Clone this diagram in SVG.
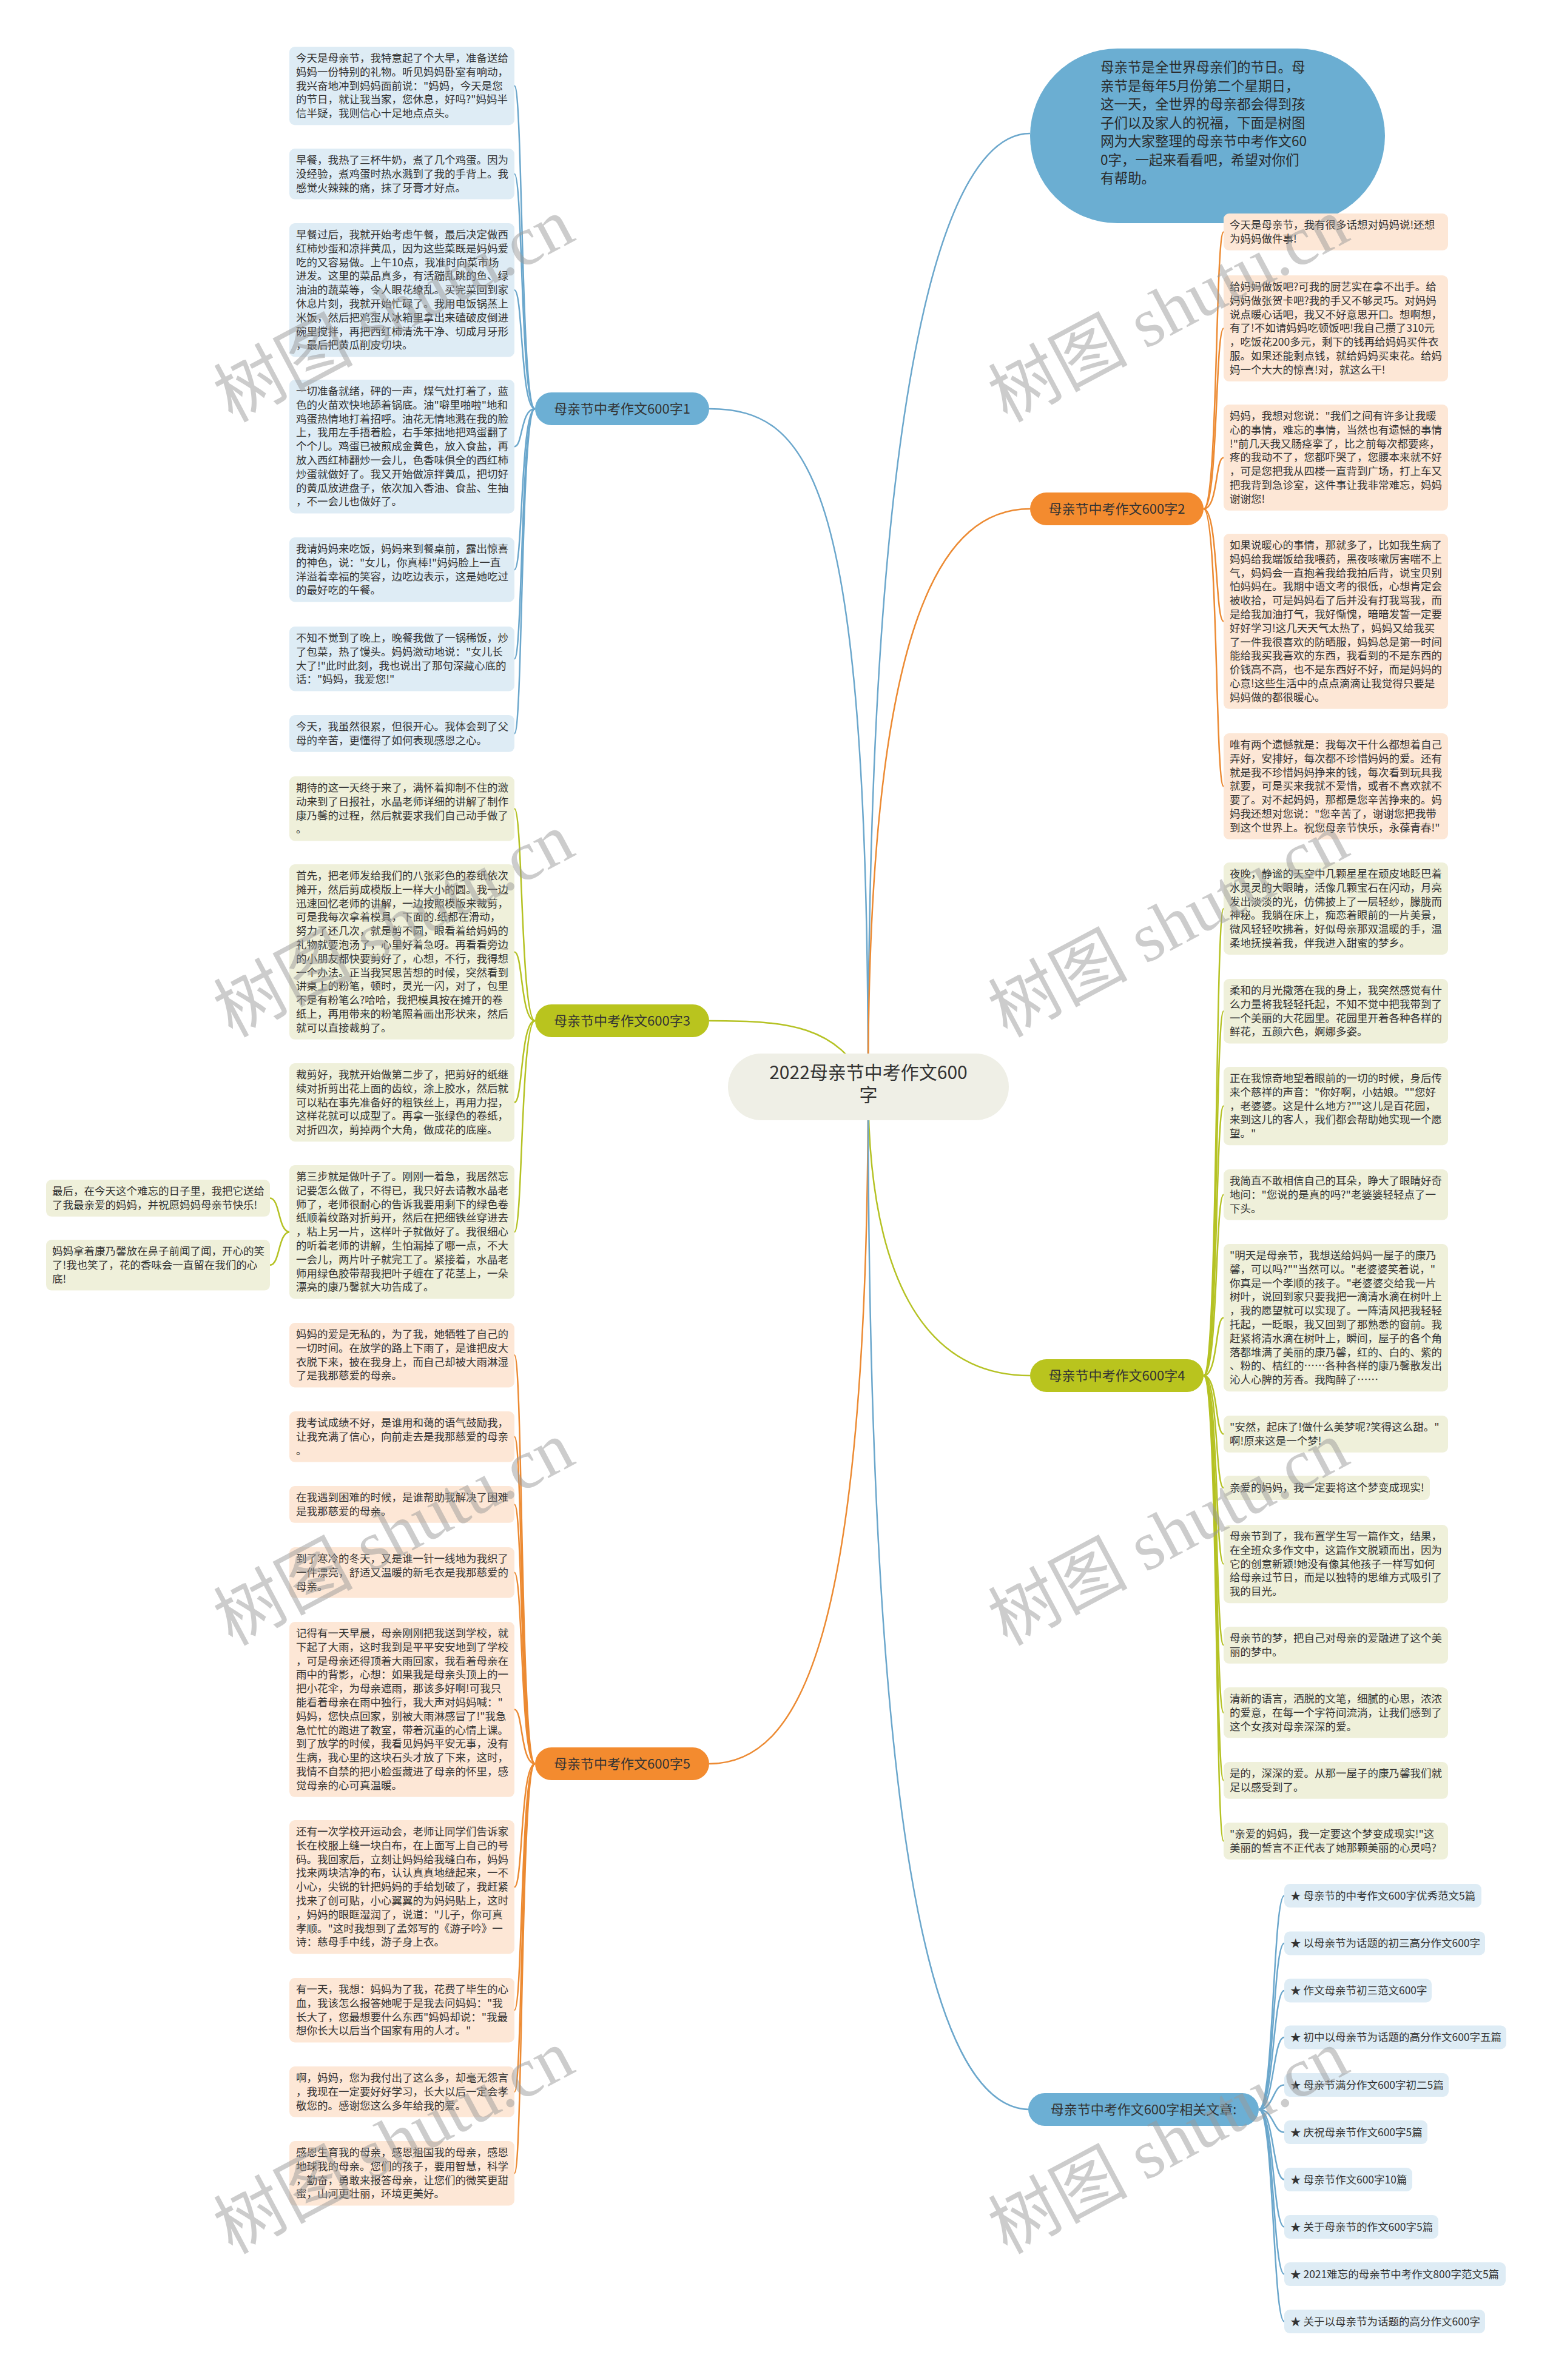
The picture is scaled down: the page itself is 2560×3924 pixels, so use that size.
<svg xmlns="http://www.w3.org/2000/svg" width="2560" height="3924" viewBox="0 0 2560 3924">
<style>
.t{font-family:"Noto Sans CJK SC","Noto Sans",sans-serif;font-size:17.5px;fill:#333}
.bt{font-family:"Noto Sans CJK SC","Noto Sans",sans-serif;font-size:22px;fill:#333;text-anchor:middle}
.ct{font-family:"Noto Sans CJK SC","Noto Sans",sans-serif;font-size:30px;fill:#333;text-anchor:middle}
.qt{font-family:"Noto Sans CJK SC","Noto Sans",sans-serif;font-size:22.5px;fill:#2a2a2a}
.bb{fill:#DEECF5}.bo{fill:#FDE7D6}.bg{fill:#EFF0DA}
.cb{fill:none;stroke:#6BA7CC;stroke-width:2.5}
.co{fill:none;stroke:#EC8A32;stroke-width:2.5}
.cg{fill:none;stroke:#B5C224;stroke-width:2.5}
.wm{font-family:"Liberation Serif","Noto Sans CJK SC",serif;font-size:115px;fill:#9a9a9a;opacity:0.5;text-anchor:middle}
</style>
<rect width="2560" height="3924" fill="#ffffff"/>
<g id="connectors">
<path class="cb" d="M1431 1790 C1431 600 1560 220 1698 220"/>
<path class="cb" d="M1431 1790 C1431 800 1340 674 1169 674"/>
<path class="co" d="M1431 1790 C1431 1000 1560 839 1698 839"/>
<path class="cg" d="M1431 1790 C1380 1690 1300 1683 1169 1683"/>
<path class="cg" d="M1431 1790 C1431 2100 1520 2268 1698 2268"/>
<path class="co" d="M1431 1790 C1431 2700 1320 2908 1169 2908"/>
<path class="cb" d="M1431 1790 C1431 3000 1530 3478 1698 3478"/>
<g class="cb">
<path d="M882 674 C858 674 862 141.6 848 141.6"/>
<path d="M882 674 C858 674 862 286.8 848 286.8"/>
<path d="M882 674 C858 674 862 478.2 848 478.2"/>
<path d="M882 674 C858 674 862 736.2 848 736.2"/>
<path d="M882 674 C858 674 862 939.2 848 939.2"/>
<path d="M882 674 C858 674 862 1086.2 848 1086.2"/>
<path d="M882 674 C858 674 862 1209.4 848 1209.4"/>
</g>
<g class="cg">
<path d="M882 1683 C858 1683 862 1333.2 848 1333.2"/>
<path d="M882 1683 C858 1683 862 1569.4 848 1569.4"/>
<path d="M882 1683 C858 1683 862 1817.6 848 1817.6"/>
<path d="M882 1683 C858 1683 862 2031.2 848 2031.2"/>
<path d="M478 2031.2 C458 2031.2 462 1975.4 445 1975.4"/>
<path d="M478 2031.2 C458 2031.2 462 2085.8 445 2085.8"/>
</g>
<g class="co">
<path d="M882 2908 C858 2908 862 2234.2 848 2234.2"/>
<path d="M882 2908 C858 2908 862 2368.8 848 2368.8"/>
<path d="M882 2908 C858 2908 862 2480.4 848 2480.4"/>
<path d="M882 2908 C858 2908 862 2592.8 848 2592.8"/>
<path d="M882 2908 C858 2908 862 2818.4 848 2818.4"/>
<path d="M882 2908 C858 2908 862 3111.2 848 3111.2"/>
<path d="M882 2908 C858 2908 862 3314.2 848 3314.2"/>
<path d="M882 2908 C858 2908 862 3448.8 848 3448.8"/>
<path d="M882 2908 C858 2908 862 3583.2 848 3583.2"/>
</g>
<g class="co">
<path d="M1984 839 C2008 839 2003 382.4 2017 382.4"/>
<path d="M1984 839 C2008 839 2003 541.4 2017 541.4"/>
<path d="M1984 839 C2008 839 2003 754.4 2017 754.4"/>
<path d="M1984 839 C2008 839 2003 1024.4 2017 1024.4"/>
<path d="M1984 839 C2008 839 2003 1296.4 2017 1296.4"/>
</g>
<g class="cg">
<path d="M1984 2268 C2008 2268 2003 1498 2017 1498"/>
<path d="M1984 2268 C2008 2268 2003 1667.2 2017 1667.2"/>
<path d="M1984 2268 C2008 2268 2003 1823.6 2017 1823.6"/>
<path d="M1984 2268 C2008 2268 2003 1969.8 2017 1969.8"/>
<path d="M1984 2268 C2008 2268 2003 2172.6 2017 2172.6"/>
<path d="M1984 2268 C2008 2268 2003 2364.4 2017 2364.4"/>
<path d="M1984 2268 C2008 2268 2003 2453 2017 2453"/>
<path d="M1984 2268 C2008 2268 2003 2578.6 2017 2578.6"/>
<path d="M1984 2268 C2008 2268 2003 2712.4 2017 2712.4"/>
<path d="M1984 2268 C2008 2268 2003 2823.8 2017 2823.8"/>
<path d="M1984 2268 C2008 2268 2003 2935.4 2017 2935.4"/>
<path d="M1984 2268 C2008 2268 2003 3035.4 2017 3035.4"/>
</g>
<g class="cb">
<path d="M2075 3478 C2100 3478 2098 3125.5 2117 3125.5"/>
<path d="M2075 3478 C2100 3478 2098 3204 2117 3204"/>
<path d="M2075 3478 C2100 3478 2098 3282 2117 3282"/>
<path d="M2075 3478 C2100 3478 2098 3359 2117 3359"/>
<path d="M2075 3478 C2100 3478 2098 3437.5 2117 3437.5"/>
<path d="M2075 3478 C2100 3478 2098 3515.5 2117 3515.5"/>
<path d="M2075 3478 C2100 3478 2098 3593.5 2117 3593.5"/>
<path d="M2075 3478 C2100 3478 2098 3671.5 2117 3671.5"/>
<path d="M2075 3478 C2100 3478 2098 3749.5 2117 3749.5"/>
<path d="M2075 3478 C2100 3478 2098 3827.5 2117 3827.5"/>
</g>
</g>

<g id="center"><rect x="1200" y="1737" width="463" height="110" rx="55" fill="#EFEFE6"/><text class="ct"><tspan x="1431.5" y="1779">2022母亲节中考作文600</tspan><tspan x="1431.5" y="1816">字</tspan></text></g>

<g id="intro"><rect x="1698" y="80" width="585" height="288" rx="144" fill="#6BAED2"/><text class="qt"><tspan x="1814" y="119">母亲节是全世界母亲们的节日。母</tspan><tspan x="1814" y="149.5">亲节是每年5月份第二个星期日，</tspan><tspan x="1814" y="180">这一天，全世界的母亲都会得到孩</tspan><tspan x="1814" y="210.5">子们以及家人的祝福，下面是树图</tspan><tspan x="1814" y="241">网为大家整理的母亲节中考作文60</tspan><tspan x="1814" y="271.5">0字，一起来看看吧，希望对你们</tspan><tspan x="1814" y="302">有帮助。</tspan></text></g>

<g id="b1"><rect x="882" y="647" width="287" height="54" rx="27" fill="#6CAFD4"/><text class="bt" x="1025.5" y="682">母亲节中考作文600字1</text></g>
<g id="b2"><rect x="1698" y="812" width="286" height="54" rx="27" fill="#F38B2F"/><text class="bt" x="1841" y="847">母亲节中考作文600字2</text></g>
<g id="b3"><rect x="882" y="1656" width="287" height="54" rx="27" fill="#B9C41E"/><text class="bt" x="1025.5" y="1691">母亲节中考作文600字3</text></g>
<g id="b4"><rect x="1698" y="2241" width="286" height="54" rx="27" fill="#B9C41E"/><text class="bt" x="1841" y="2276">母亲节中考作文600字4</text></g>
<g id="b5"><rect x="882" y="2881" width="287" height="54" rx="27" fill="#F38B2F"/><text class="bt" x="1025.5" y="2916">母亲节中考作文600字5</text></g>
<g id="b6"><rect x="1695" y="3451" width="380" height="54" rx="27" fill="#6CAFD4"/><text class="bt" x="1885" y="3486">母亲节中考作文600字相关文章:</text></g>

<g id="l1a"><rect class="bb" x="477" y="77" width="371" height="129.2" rx="9"/><text class="t"><tspan x="488" y="102">今天是母亲节，我特意起了个大早，准备送给</tspan><tspan x="488" y="124.8">妈妈一份特别的礼物。听见妈妈卧室有响动，</tspan><tspan x="488" y="147.6">我兴奋地冲到妈妈面前说："妈妈，今天是您</tspan><tspan x="488" y="170.4">的节日，就让我当家，您休息，好吗?"妈妈半</tspan><tspan x="488" y="193.2">信半疑，我则信心十足地点点头。</tspan></text></g>
<g id="l1b"><rect class="bb" x="477" y="245" width="371" height="83.6" rx="9"/><text class="t"><tspan x="488" y="270">早餐，我热了三杯牛奶，煮了几个鸡蛋。因为</tspan><tspan x="488" y="292.8">没经验，煮鸡蛋时热水溅到了我的手背上。我</tspan><tspan x="488" y="315.6">感觉火辣辣的痛，抹了牙膏才好点。</tspan></text></g>
<g id="l1c"><rect class="bb" x="477" y="368" width="371" height="220.4" rx="9"/><text class="t"><tspan x="488" y="393">早餐过后，我就开始考虑午餐，最后决定做西</tspan><tspan x="488" y="415.8">红柿炒蛋和凉拌黄瓜，因为这些菜既是妈妈爱</tspan><tspan x="488" y="438.6">吃的又容易做。上午10点，我准时向菜市场</tspan><tspan x="488" y="461.4">进发。这里的菜品真多，有活蹦乱跳的鱼、绿</tspan><tspan x="488" y="484.2">油油的蔬菜等，令人眼花缭乱。买完菜回到家</tspan><tspan x="488" y="507">休息片刻，我就开始忙碌了。我用电饭锅蒸上</tspan><tspan x="488" y="529.8">米饭，然后把鸡蛋从冰箱里拿出来磕破皮倒进</tspan><tspan x="488" y="552.6">碗里搅拌，再把西红柿清洗干净、切成月牙形</tspan><tspan x="488" y="575.4">，最后把黄瓜削皮切块。</tspan></text></g>
<g id="l1d"><rect class="bb" x="477" y="626" width="371" height="220.4" rx="9"/><text class="t"><tspan x="488" y="651">一切准备就绪，砰的一声，煤气灶打着了，蓝</tspan><tspan x="488" y="673.8">色的火苗欢快地舔着锅底。油"噼里啪啦"地和</tspan><tspan x="488" y="696.6">鸡蛋热情地打着招呼。油花无情地溅在我的脸</tspan><tspan x="488" y="719.4">上，我用左手捂着脸，右手笨拙地把鸡蛋翻了</tspan><tspan x="488" y="742.2">个个儿。鸡蛋已被煎成金黄色，放入食盐，再</tspan><tspan x="488" y="765">放入西红柿翻炒一会儿，色香味俱全的西红柿</tspan><tspan x="488" y="787.8">炒蛋就做好了。我又开始做凉拌黄瓜，把切好</tspan><tspan x="488" y="810.6">的黄瓜放进盘子，依次加入香油、食盐、生抽</tspan><tspan x="488" y="833.4">，不一会儿也做好了。</tspan></text></g>
<g id="l1e"><rect class="bb" x="477" y="886" width="371" height="106.4" rx="9"/><text class="t"><tspan x="488" y="911">我请妈妈来吃饭，妈妈来到餐桌前，露出惊喜</tspan><tspan x="488" y="933.8">的神色，说："女儿，你真棒!"妈妈脸上一直</tspan><tspan x="488" y="956.6">洋溢着幸福的笑容，边吃边表示，这是她吃过</tspan><tspan x="488" y="979.4">的最好吃的午餐。</tspan></text></g>
<g id="l1f"><rect class="bb" x="477" y="1033" width="371" height="106.4" rx="9"/><text class="t"><tspan x="488" y="1058">不知不觉到了晚上，晚餐我做了一锅稀饭，炒</tspan><tspan x="488" y="1080.8">了包菜，热了馒头。妈妈激动地说："女儿长</tspan><tspan x="488" y="1103.6">大了!"此时此刻，我也说出了那句深藏心底的</tspan><tspan x="488" y="1126.4">话："妈妈，我爱您!"</tspan></text></g>
<g id="l1g"><rect class="bb" x="477" y="1179" width="371" height="60.8" rx="9"/><text class="t"><tspan x="488" y="1204">今天，我虽然很累，但很开心。我体会到了父</tspan><tspan x="488" y="1226.8">母的辛苦，更懂得了如何表现感恩之心。</tspan></text></g>

<g id="l3a"><rect class="bg" x="477" y="1280" width="371" height="106.4" rx="9"/><text class="t"><tspan x="488" y="1305">期待的这一天终于来了，满怀着抑制不住的激</tspan><tspan x="488" y="1327.8">动来到了日报社，水晶老师详细的讲解了制作</tspan><tspan x="488" y="1350.6">康乃馨的过程，然后就要求我们自己动手做了</tspan><tspan x="488" y="1373.4">。</tspan></text></g>
<g id="l3b"><rect class="bg" x="477" y="1425" width="371" height="288.8" rx="9"/><text class="t"><tspan x="488" y="1450">首先，把老师发给我们的八张彩色的卷纸依次</tspan><tspan x="488" y="1472.8">摊开，然后剪成模版上一样大小的圆。我一边</tspan><tspan x="488" y="1495.6">迅速回忆老师的讲解，一边按照模版来裁剪，</tspan><tspan x="488" y="1518.4">可是我每次拿着模具，下面的.纸都在滑动，</tspan><tspan x="488" y="1541.2">努力了还几次，就是剪不圆，眼看着给妈妈的</tspan><tspan x="488" y="1564">礼物就要泡汤了，心里好着急呀。再看看旁边</tspan><tspan x="488" y="1586.8">的小朋友都快要剪好了，心想，不行，我得想</tspan><tspan x="488" y="1609.6">一个办法。正当我冥思苦想的时候，突然看到</tspan><tspan x="488" y="1632.4">讲桌上的粉笔，顿时，灵光一闪，对了，包里</tspan><tspan x="488" y="1655.2">不是有粉笔么?哈哈，我把模具按在摊开的卷</tspan><tspan x="488" y="1678">纸上，再用带来的粉笔照着画出形状来，然后</tspan><tspan x="488" y="1700.8">就可以直接裁剪了。</tspan></text></g>
<g id="l3c"><rect class="bg" x="477" y="1753" width="371" height="129.2" rx="9"/><text class="t"><tspan x="488" y="1778">裁剪好，我就开始做第二步了，把剪好的纸继</tspan><tspan x="488" y="1800.8">续对折剪出花上面的齿纹，涂上胶水，然后就</tspan><tspan x="488" y="1823.6">可以粘在事先准备好的粗铁丝上，再用力捏，</tspan><tspan x="488" y="1846.4">这样花就可以成型了。再拿一张绿色的卷纸，</tspan><tspan x="488" y="1869.2">对折四次，剪掉两个大角，做成花的底座。</tspan></text></g>
<g id="l3d"><rect class="bg" x="477" y="1921" width="371" height="220.4" rx="9"/><text class="t"><tspan x="488" y="1946">第三步就是做叶子了。刚刚一着急，我居然忘</tspan><tspan x="488" y="1968.8">记要怎么做了，不得已，我只好去请教水晶老</tspan><tspan x="488" y="1991.6">师了，老师很耐心的告诉我要用剩下的绿色卷</tspan><tspan x="488" y="2014.4">纸顺着纹路对折剪开，然后在把细铁丝穿进去</tspan><tspan x="488" y="2037.2">，粘上另一片，这样叶子就做好了。我很细心</tspan><tspan x="488" y="2060">的听着老师的讲解，生怕漏掉了哪一点，不大</tspan><tspan x="488" y="2082.8">一会儿，两片叶子就完工了。紧接着，水晶老</tspan><tspan x="488" y="2105.6">师用绿色胶带帮我把叶子缠在了花茎上，一朵</tspan><tspan x="488" y="2128.4">漂亮的康乃馨就大功告成了。</tspan></text></g>
<g id="s1"><rect class="bg" x="76" y="1945" width="369" height="60.8" rx="9"/><text class="t"><tspan x="86" y="1970">最后，在今天这个难忘的日子里，我把它送给</tspan><tspan x="86" y="1992.8">了我最亲爱的妈妈，并祝愿妈妈母亲节快乐!</tspan></text></g>
<g id="s2"><rect class="bg" x="76" y="2044" width="369" height="83.6" rx="9"/><text class="t"><tspan x="86" y="2069">妈妈拿着康乃馨放在鼻子前闻了闻，开心的笑</tspan><tspan x="86" y="2091.8">了!我也笑了，花的香味会一直留在我们的心</tspan><tspan x="86" y="2114.6">底!</tspan></text></g>

<g id="l5a"><rect class="bo" x="477" y="2181" width="371" height="106.4" rx="9"/><text class="t"><tspan x="488" y="2206">妈妈的爱是无私的，为了我，她牺牲了自己的</tspan><tspan x="488" y="2228.8">一切时间。在放学的路上下雨了，是谁把皮大</tspan><tspan x="488" y="2251.6">衣脱下来，披在我身上，而自己却被大雨淋湿</tspan><tspan x="488" y="2274.4">了是我那慈爱的母亲。</tspan></text></g>
<g id="l5b"><rect class="bo" x="477" y="2327" width="371" height="83.6" rx="9"/><text class="t"><tspan x="488" y="2352">我考试成绩不好，是谁用和蔼的语气鼓励我，</tspan><tspan x="488" y="2374.8">让我充满了信心，向前走去是我那慈爱的母亲</tspan><tspan x="488" y="2397.6">。</tspan></text></g>
<g id="l5c"><rect class="bo" x="477" y="2450" width="371" height="60.8" rx="9"/><text class="t"><tspan x="488" y="2475">在我遇到困难的时候，是谁帮助我解决了困难</tspan><tspan x="488" y="2497.8">是我那慈爱的母亲。</tspan></text></g>
<g id="l5d"><rect class="bo" x="477" y="2551" width="371" height="83.6" rx="9"/><text class="t"><tspan x="488" y="2576">到了寒冷的冬天，又是谁一针一线地为我织了</tspan><tspan x="488" y="2598.8">一件漂亮，舒适又温暖的新毛衣是我那慈爱的</tspan><tspan x="488" y="2621.6">母亲。</tspan></text></g>
<g id="l5e"><rect class="bo" x="477" y="2674" width="371" height="288.8" rx="9"/><text class="t"><tspan x="488" y="2699">记得有一天早晨，母亲刚刚把我送到学校，就</tspan><tspan x="488" y="2721.8">下起了大雨，这时我到是平平安安地到了学校</tspan><tspan x="488" y="2744.6">，可是母亲还得顶着大雨回家，我看着母亲在</tspan><tspan x="488" y="2767.4">雨中的背影，心想：如果我是母亲头顶上的一</tspan><tspan x="488" y="2790.2">把小花伞，为母亲遮雨，那该多好啊!可我只</tspan><tspan x="488" y="2813">能看着母亲在雨中独行，我大声对妈妈喊："</tspan><tspan x="488" y="2835.8">妈妈，您快点回家，别被大雨淋感冒了!"我急</tspan><tspan x="488" y="2858.6">急忙忙的跑进了教室，带着沉重的心情上课。</tspan><tspan x="488" y="2881.4">到了放学的时候，我看见妈妈平安无事，没有</tspan><tspan x="488" y="2904.2">生病，我心里的这块石头才放了下来，这时，</tspan><tspan x="488" y="2927">我情不自禁的把小脸蛋藏进了母亲的怀里，感</tspan><tspan x="488" y="2949.8">觉母亲的心可真温暖。</tspan></text></g>
<g id="l5f"><rect class="bo" x="477" y="3001" width="371" height="220.4" rx="9"/><text class="t"><tspan x="488" y="3026">还有一次学校开运动会，老师让同学们告诉家</tspan><tspan x="488" y="3048.8">长在校服上缝一块白布，在上面写上自己的号</tspan><tspan x="488" y="3071.6">码。我回家后，立刻让妈妈给我缝白布，妈妈</tspan><tspan x="488" y="3094.4">找来两块洁净的布，认认真真地缝起来，一不</tspan><tspan x="488" y="3117.2">小心，尖锐的针把妈妈的手给划破了，我赶紧</tspan><tspan x="488" y="3140">找来了创可贴，小心翼翼的为妈妈贴上，这时</tspan><tspan x="488" y="3162.8">，妈妈的眼眶湿润了，说道："儿子，你可真</tspan><tspan x="488" y="3185.6">孝顺。"这时我想到了孟郊写的《游子吟》一</tspan><tspan x="488" y="3208.4">诗：慈母手中线，游子身上衣。</tspan></text></g>
<g id="l5g"><rect class="bo" x="477" y="3261" width="371" height="106.4" rx="9"/><text class="t"><tspan x="488" y="3286">有一天，我想：妈妈为了我，花费了毕生的心</tspan><tspan x="488" y="3308.8">血，我该怎么报答她呢于是我去问妈妈："我</tspan><tspan x="488" y="3331.6">长大了，您最想要什么东西"妈妈却说："我最</tspan><tspan x="488" y="3354.4">想你长大以后当个国家有用的人才。"</tspan></text></g>
<g id="l5h"><rect class="bo" x="477" y="3407" width="371" height="83.6" rx="9"/><text class="t"><tspan x="488" y="3432">啊，妈妈，您为我付出了这么多，却毫无怨言</tspan><tspan x="488" y="3454.8">，我现在一定要好好学习，长大以后一定会孝</tspan><tspan x="488" y="3477.6">敬您的。感谢您这么多年给我的爱。</tspan></text></g>
<g id="l5i"><rect class="bo" x="477" y="3530" width="371" height="106.4" rx="9"/><text class="t"><tspan x="488" y="3555">感恩生育我的母亲，感恩祖国我的母亲，感恩</tspan><tspan x="488" y="3577.8">地球我的母亲。您们的孩子，要用智慧，科学</tspan><tspan x="488" y="3600.6">，勤奋，勇敢来报答母亲，让您们的微笑更甜</tspan><tspan x="488" y="3623.4">蜜，山河更壮丽，环境更美好。</tspan></text></g>

<g id="r2a"><rect class="bo" x="2017" y="352" width="370" height="60.8" rx="9"/><text class="t"><tspan x="2027" y="377">今天是母亲节，我有很多话想对妈妈说!还想</tspan><tspan x="2027" y="399.8">为妈妈做件事!</tspan></text></g>
<g id="r2b"><rect class="bo" x="2017" y="454" width="370" height="174.8" rx="9"/><text class="t"><tspan x="2027" y="479">给妈妈做饭吧?可我的厨艺实在拿不出手。给</tspan><tspan x="2027" y="501.8">妈妈做张贺卡吧?我的手又不够灵巧。对妈妈</tspan><tspan x="2027" y="524.6">说点暖心话吧，我又不好意思开口。想啊想，</tspan><tspan x="2027" y="547.4">有了!不如请妈妈吃顿饭吧!我自己攒了310元</tspan><tspan x="2027" y="570.2">，吃饭花200多元，剩下的钱再给妈妈买件衣</tspan><tspan x="2027" y="593">服。如果还能剩点钱，就给妈妈买束花。给妈</tspan><tspan x="2027" y="615.8">妈一个大大的惊喜!对，就这么干!</tspan></text></g>
<g id="r2c"><rect class="bo" x="2017" y="667" width="370" height="174.8" rx="9"/><text class="t"><tspan x="2027" y="692">妈妈，我想对您说："我们之间有许多让我暖</tspan><tspan x="2027" y="714.8">心的事情，难忘的事情，当然也有遗憾的事情</tspan><tspan x="2027" y="737.6">!"前几天我又肠痉挛了，比之前每次都要疼，</tspan><tspan x="2027" y="760.4">疼的我动不了，您都吓哭了，您腰本来就不好</tspan><tspan x="2027" y="783.2">，可是您把我从四楼一直背到广场，打上车又</tspan><tspan x="2027" y="806">把我背到急诊室，这件事让我非常难忘，妈妈</tspan><tspan x="2027" y="828.8">谢谢您!</tspan></text></g>
<g id="r2d"><rect class="bo" x="2017" y="880" width="370" height="288.8" rx="9"/><text class="t"><tspan x="2027" y="905">如果说暖心的事情，那就多了，比如我生病了</tspan><tspan x="2027" y="927.8">妈妈给我端饭给我喂药，黑夜咳嗽厉害喘不上</tspan><tspan x="2027" y="950.6">气，妈妈会一直抱着我给我拍后背，说宝贝别</tspan><tspan x="2027" y="973.4">怕妈妈在。我期中语文考的很低，心想肯定会</tspan><tspan x="2027" y="996.2">被收拾，可是妈妈看了后并没有打我骂我，而</tspan><tspan x="2027" y="1019">是给我加油打气，我好惭愧，暗暗发誓一定要</tspan><tspan x="2027" y="1041.8">好好学习!这几天天气太热了，妈妈又给我买</tspan><tspan x="2027" y="1064.6">了一件我很喜欢的防晒服，妈妈总是第一时间</tspan><tspan x="2027" y="1087.4">能给我买我喜欢的东西，我看到的不是东西的</tspan><tspan x="2027" y="1110.2">价钱高不高，也不是东西好不好，而是妈妈的</tspan><tspan x="2027" y="1133">心意!这些生活中的点点滴滴让我觉得只要是</tspan><tspan x="2027" y="1155.8">妈妈做的都很暖心。</tspan></text></g>
<g id="r2e"><rect class="bo" x="2017" y="1209" width="370" height="174.8" rx="9"/><text class="t"><tspan x="2027" y="1234">唯有两个遗憾就是：我每次干什么都想着自己</tspan><tspan x="2027" y="1256.8">弄好，安排好，每次都不珍惜妈妈的爱。还有</tspan><tspan x="2027" y="1279.6">就是我不珍惜妈妈挣来的钱，每次看到玩具我</tspan><tspan x="2027" y="1302.4">就要，可是买来我就不爱惜，或者不喜欢就不</tspan><tspan x="2027" y="1325.2">要了。对不起妈妈，那都是您辛苦挣来的。妈</tspan><tspan x="2027" y="1348">妈我还想对您说："您辛苦了，谢谢您把我带</tspan><tspan x="2027" y="1370.8">到这个世界上。祝您母亲节快乐，永葆青春!"</tspan></text></g>

<g id="r4a"><rect class="bg" x="2017" y="1422" width="370" height="152" rx="9"/><text class="t"><tspan x="2027" y="1447">夜晚，静谧的天空中几颗星星在顽皮地眨巴着</tspan><tspan x="2027" y="1469.8">水灵灵的大眼睛，活像几颗宝石在闪动，月亮</tspan><tspan x="2027" y="1492.6">发出淡淡的光，仿佛披上了一层轻纱，朦胧而</tspan><tspan x="2027" y="1515.4">神秘。我躺在床上，痴恋着眼前的一片美景，</tspan><tspan x="2027" y="1538.2">微风轻轻吹拂着，好似母亲那双温暖的手，温</tspan><tspan x="2027" y="1561">柔地抚摸着我，伴我进入甜蜜的梦乡。</tspan></text></g>
<g id="r4b"><rect class="bg" x="2017" y="1614" width="370" height="106.4" rx="9"/><text class="t"><tspan x="2027" y="1639">柔和的月光撒落在我的身上，我突然感觉有什</tspan><tspan x="2027" y="1661.8">么力量将我轻轻托起，不知不觉中把我带到了</tspan><tspan x="2027" y="1684.6">一个美丽的大花园里。花园里开着各种各样的</tspan><tspan x="2027" y="1707.4">鲜花，五颜六色，婀娜多姿。</tspan></text></g>
<g id="r4c"><rect class="bg" x="2017" y="1759" width="370" height="129.2" rx="9"/><text class="t"><tspan x="2027" y="1784">正在我惊奇地望着眼前的一切的时候，身后传</tspan><tspan x="2027" y="1806.8">来个慈祥的声音："你好啊，小姑娘。""您好</tspan><tspan x="2027" y="1829.6">，老婆婆。这是什么地方?""这儿是百花园，</tspan><tspan x="2027" y="1852.4">来到这儿的客人，我们都会帮助她实现一个愿</tspan><tspan x="2027" y="1875.2">望。"</tspan></text></g>
<g id="r4d"><rect class="bg" x="2017" y="1928" width="370" height="83.6" rx="9"/><text class="t"><tspan x="2027" y="1953">我简直不敢相信自己的耳朵，睁大了眼睛好奇</tspan><tspan x="2027" y="1975.8">地问："您说的是真的吗?"老婆婆轻轻点了一</tspan><tspan x="2027" y="1998.6">下头。</tspan></text></g>
<g id="r4e"><rect class="bg" x="2017" y="2051" width="370" height="243.2" rx="9"/><text class="t"><tspan x="2027" y="2076">"明天是母亲节，我想送给妈妈一屋子的康乃</tspan><tspan x="2027" y="2098.8">馨，可以吗?""当然可以。"老婆婆笑着说，"</tspan><tspan x="2027" y="2121.6">你真是一个孝顺的孩子。"老婆婆交给我一片</tspan><tspan x="2027" y="2144.4">树叶，说回到家只要我把一滴清水滴在树叶上</tspan><tspan x="2027" y="2167.2">，我的愿望就可以实现了。一阵清风把我轻轻</tspan><tspan x="2027" y="2190">托起，一眨眼，我又回到了那熟悉的窗前。我</tspan><tspan x="2027" y="2212.8">赶紧将清水滴在树叶上，瞬间，屋子的各个角</tspan><tspan x="2027" y="2235.6">落都堆满了美丽的康乃馨，红的、白的、紫的</tspan><tspan x="2027" y="2258.4">、粉的、桔红的……各种各样的康乃馨散发出</tspan><tspan x="2027" y="2281.2">沁人心脾的芳香。我陶醉了……</tspan></text></g>
<g id="r4f"><rect class="bg" x="2017" y="2334" width="370" height="60.8" rx="9"/><text class="t"><tspan x="2027" y="2359">"安然，起床了!做什么美梦呢?笑得这么甜。"</tspan><tspan x="2027" y="2381.8">啊!原来这是一个梦!</tspan></text></g>
<g id="r4g"><rect class="bg" x="2017" y="2433" width="340" height="40" rx="9"/><text class="t"><tspan x="2027" y="2459">亲爱的妈妈，我一定要将这个梦变成现实!</tspan></text></g>
<g id="r4h"><rect class="bg" x="2017" y="2514" width="370" height="129.2" rx="9"/><text class="t"><tspan x="2027" y="2539">母亲节到了，我布置学生写一篇作文，结果，</tspan><tspan x="2027" y="2561.8">在全班众多作文中，这篇作文脱颖而出，因为</tspan><tspan x="2027" y="2584.6">它的创意新颖!她没有像其他孩子一样写如何</tspan><tspan x="2027" y="2607.4">给母亲过节日，而是以独特的思维方式吸引了</tspan><tspan x="2027" y="2630.2">我的目光。</tspan></text></g>
<g id="r4i"><rect class="bg" x="2017" y="2682" width="370" height="60.8" rx="9"/><text class="t"><tspan x="2027" y="2707">母亲节的梦，把自己对母亲的爱融进了这个美</tspan><tspan x="2027" y="2729.8">丽的梦中。</tspan></text></g>
<g id="r4j"><rect class="bg" x="2017" y="2782" width="370" height="83.6" rx="9"/><text class="t"><tspan x="2027" y="2807">清新的语言，洒脱的文笔，细腻的心思，浓浓</tspan><tspan x="2027" y="2829.8">的爱意，在每一个字符间流淌，让我们感到了</tspan><tspan x="2027" y="2852.6">这个女孩对母亲深深的爱。</tspan></text></g>
<g id="r4k"><rect class="bg" x="2017" y="2905" width="370" height="60.8" rx="9"/><text class="t"><tspan x="2027" y="2930">是的，深深的爱。从那一屋子的康乃馨我们就</tspan><tspan x="2027" y="2952.8">足以感受到了。</tspan></text></g>
<g id="r4l"><rect class="bg" x="2017" y="3005" width="370" height="60.8" rx="9"/><text class="t"><tspan x="2027" y="3030">"亲爱的妈妈，我一定要这个梦变成现实!"这</tspan><tspan x="2027" y="3052.8">美丽的誓言不正代表了她那颗美丽的心灵吗?</tspan></text></g>

<g id="rel1"><rect class="bb" x="2117" y="3106" width="325" height="39" rx="9"/><text class="t" x="2127" y="3131.5">★ 母亲节的中考作文600字优秀范文5篇</text></g>
<g id="rel2"><rect class="bb" x="2117" y="3184.5" width="331" height="39" rx="9"/><text class="t" x="2127" y="3210">★ 以母亲节为话题的初三高分作文600字</text></g>
<g id="rel3"><rect class="bb" x="2117" y="3262.5" width="243" height="39" rx="9"/><text class="t" x="2127" y="3288">★ 作文母亲节初三范文600字</text></g>
<g id="rel4"><rect class="bb" x="2117" y="3339.5" width="366" height="39" rx="9"/><text class="t" x="2127" y="3365">★ 初中以母亲节为话题的高分作文600字五篇</text></g>
<g id="rel5"><rect class="bb" x="2117" y="3418" width="271" height="39" rx="9"/><text class="t" x="2127" y="3443.5">★ 母亲节满分作文600字初二5篇</text></g>
<g id="rel6"><rect class="bb" x="2117" y="3496" width="236" height="39" rx="9"/><text class="t" x="2127" y="3521.5">★ 庆祝母亲节作文600字5篇</text></g>
<g id="rel7"><rect class="bb" x="2117" y="3574" width="211" height="39" rx="9"/><text class="t" x="2127" y="3599.5">★ 母亲节作文600字10篇</text></g>
<g id="rel8"><rect class="bb" x="2117" y="3652" width="254" height="39" rx="9"/><text class="t" x="2127" y="3677.5">★ 关于母亲节的作文600字5篇</text></g>
<g id="rel9"><rect class="bb" x="2117" y="3730" width="365" height="39" rx="9"/><text class="t" x="2127" y="3755.5">★ 2021难忘的母亲节中考作文800字范文5篇</text></g>
<g id="rel10"><rect class="bb" x="2117" y="3808" width="331" height="39" rx="9"/><text class="t" x="2127" y="3833.5">★ 关于以母亲节为话题的高分作文600字</text></g>

<g id="watermark">
<text class="wm" transform="rotate(-28 650 513)" x="650" y="550">树图 shutu.cn</text>
<text class="wm" transform="rotate(-28 1927 513)" x="1927" y="550">树图 shutu.cn</text>
<text class="wm" transform="rotate(-28 650 1527)" x="650" y="1564">树图 shutu.cn</text>
<text class="wm" transform="rotate(-28 1927 1527)" x="1927" y="1564">树图 shutu.cn</text>
<text class="wm" transform="rotate(-28 650 2530)" x="650" y="2567">树图 shutu.cn</text>
<text class="wm" transform="rotate(-28 1927 2530)" x="1927" y="2567">树图 shutu.cn</text>
<text class="wm" transform="rotate(-28 650 3533)" x="650" y="3570">树图 shutu.cn</text>
<text class="wm" transform="rotate(-28 1927 3533)" x="1927" y="3570">树图 shutu.cn</text>
</g>
</svg>
